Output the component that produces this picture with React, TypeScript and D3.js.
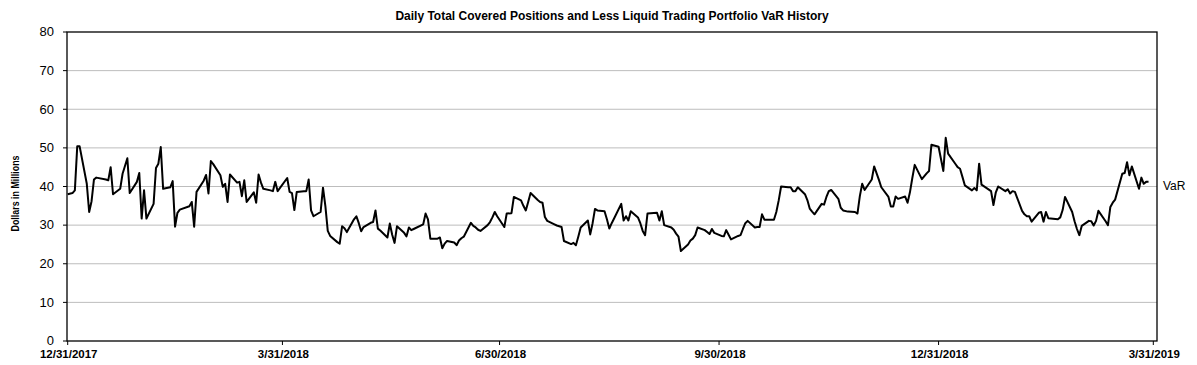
import React from 'react';
import * as d3 from 'd3';

// Daily VaR ($MM), one value per reporting day
const q1_2018 = [
  38.0,
  38.3, 39.0, 50.4, 50.4, 40.7, 33.4, 36.2, 41.8, 42.3, 41.8, 41.6, 45.0, 38.0, 39.4, 43.3, 45.3, 47.3, 38.3, 41.2, 43.5, 31.7,
  39.0, 31.7, 35.5, 44.8, 45.9, 50.2, 39.4, 39.8, 41.4, 29.6, 33.2, 34.0, 34.9, 36.0, 29.6, 38.6, 41.5, 43.0, 38.2,
  46.6, 45.8, 42.9, 39.9, 40.7, 36.0, 43.1, 41.0, 41.2, 37.5, 41.6, 36.0, 38.5, 35.8, 43.1, 41.0, 39.4, 39.0, 38.8, 41.2, 38.8,
];
const q2_2018 = [
  42.2, 38.6, 38.3, 33.9, 38.6, 38.8, 38.8, 41.8, 33.8, 32.3, 33.4, 39.7, 34.9, 28.5, 27.2, 25.6, 25.2, 29.7, 29.2, 28.2, 31.5,
  32.3, 30.5, 28.4, 29.5, 30.6, 30.8, 33.8, 29.1, 28.6, 26.8, 30.4, 27.5, 25.4, 29.7, 28.0, 27.1, 29.4, 28.7, 29.0, 30.2, 33.0, 31.5,
  26.5, 26.5, 26.8, 24.0, 25.2, 25.9, 25.5, 24.8, 26.0, 26.6, 27.0, 30.6, 29.8, 29.4, 28.8, 28.5, 30.0, 30.8, 32.0, 33.4, 32.3,
];
const q3_2018 = [
  29.5, 33.0, 33.1, 37.3, 36.4, 35.0, 33.8, 36.0, 38.3, 36.5, 36.0, 35.8, 32.1, 31.1, 30.2, 29.9, 29.7, 29.5, 25.9, 25.1, 25.4,
  24.8, 27.0, 29.4, 31.2, 27.6, 30.5, 34.2, 33.8, 33.6, 31.5, 29.1, 30.5, 31.7, 35.5, 31.2, 32.3, 31.2, 33.6, 32.0, 30.5, 28.5, 27.4, 33.0,
  33.2, 31.2, 33.6, 30.0, 29.4, 28.8, 27.8, 27.0, 23.3, 25.0, 26.0, 26.5, 27.4, 29.4, 28.7, 28.2, 27.7, 29.0, 28.0,
];
const q4_2018 = [
  27.2, 27.1, 28.7, 27.5, 26.3, 27.2, 27.4, 29.0, 30.5, 31.1, 29.4, 29.5, 29.5, 32.8, 31.4, 31.4, 31.4, 33.4, 36.4, 40.0, 39.8, 39.8, 38.8,
  38.8, 39.8, 38.0, 36.5, 34.3, 33.5, 32.8, 35.5, 35.3, 37.3, 38.8, 39.1, 36.8, 34.5, 33.8, 33.5, 33.4, 33.0, 37.5, 40.7, 39.1,
  41.8, 45.2, 41.7, 39.8, 37.3, 34.8, 34.8, 37.4, 36.8, 37.4, 35.8, 38.5, 42.2, 45.6, 41.9, 43.4, 44.0, 50.8, 50.3,
];
const q1_2019 = [
  44.0, 52.6, 48.5, 45.9, 45.0, 44.6, 42.5, 40.3, 39.0, 39.6, 39.0, 45.9, 40.5, 38.8, 35.2, 38.5, 40.0, 38.8, 39.3, 38.2, 38.8,
  38.6, 33.7, 32.8, 32.3, 32.3, 30.9, 33.2, 33.4, 30.9, 33.4, 31.8, 31.5, 32.0, 33.9, 37.3, 33.4, 31.0, 29.0, 27.4,
  29.8, 31.1, 31.0, 29.9, 31.1, 33.7, 31.0, 30.0, 34.7, 35.8, 36.6, 43.3, 43.5, 46.3, 42.9, 45.2, 39.4, 42.3, 40.7, 41.2, 41.2,
];

const holidays = [
  '2018-01-15', '2018-02-19', '2018-03-30', '2018-05-28', '2018-07-04', '2018-09-03',
  '2018-11-22', '2018-12-05', '2018-12-25', '2019-01-01', '2019-01-21', '2019-02-18',
];
const yTicks = [0, 10, 20, 30, 40, 50, 60, 70, 80];
const xTicks = ['2017-12-31', '2018-03-31', '2018-06-30', '2018-09-30', '2018-12-31', '2019-03-31'];

const title = 'Daily Total Covered Positions and Less Liquid Trading Portfolio VaR History';

const parse = d3.utcParse('%Y-%m-%d');
const fmt = d3.utcFormat('%-m/%-d/%Y');
const iso = d3.utcFormat('%Y-%m-%d');

// reporting days: quarter-end date, then business days
const tradingDays = d3.utcDay
  .range(parse('2018-01-02')!, parse('2019-03-30')!)
  .filter(d => d.getUTCDay() !== 0 && d.getUTCDay() !== 6 && !holidays.includes(iso(d)));
const dates = [parse('2017-12-31')!, ...tradingDays];
const values = [...q1_2018, ...q2_2018, ...q3_2018, ...q4_2018, ...q1_2019];
const series = dates.map((d, i) => ({ date: d, value: values[i] })).filter(p => p.value != null);

const W = 1197;
const H = 365;
const m = { left: 67, right: 1157, top: 32, bottom: 341 };

const App: React.FC = () => {
  const x = d3.scaleUtc()
    .domain([parse(xTicks[0])!, parse(xTicks[xTicks.length - 1])!])
    .range([m.left + 0.7, m.right - 3.7]);
  const y = d3.scaleLinear().domain([0, 80]).range([m.bottom, m.top]);

  const line = d3.line<{ date: Date; value: number }>()
    .x(d => x(d.date))
    .y(d => y(d.value));

  const sans = "'Liberation Sans', Arial, sans-serif";

  return (
    <svg width={W} height={H} style={{ position: 'absolute', left: 0, top: 0, background: '#fff' }}>
      <text x={612} y={20} textAnchor="middle" fontFamily={sans} fontWeight="bold" fontSize={12} fill="#000">
        {title}
      </text>

      {/* gridlines */}
      {yTicks.filter(t => t > 0 && t < 80).map(t => (
        <line key={t} x1={m.left} x2={m.right} y1={y(t)} y2={y(t)} stroke="#bdbdbd" strokeWidth={1} />
      ))}

      {/* y ticks + labels */}
      {yTicks.map(t => (
        <g key={'y' + t}>
          <line x1={m.left - 4} x2={m.left} y1={y(t)} y2={y(t)} stroke="#000" strokeWidth={1} />
          <text x={54} y={y(t) + 4.3} textAnchor="end" fontFamily={sans} fontSize={13} fill="#000">{t}</text>
        </g>
      ))}

      {/* x ticks + labels */}
      {xTicks.map(s => {
        const d = parse(s)!;
        return (
          <g key={s}>
            <line x1={x(d)} x2={x(d)} y1={m.bottom} y2={m.bottom + 4} stroke="#000" strokeWidth={1} />
            <text x={x(d) + 1} y={358} textAnchor="middle" fontFamily={sans} fontWeight="bold" fontSize={11.5} fill="#000">
              {fmt(d)}
            </text>
          </g>
        );
      })}

      <rect x={m.left} y={m.top} width={m.right - m.left} height={m.bottom - m.top} fill="none" stroke="#000" strokeWidth={1.3} />

      <path d={line(series) ?? ''} fill="none" stroke="#000" strokeWidth={2} strokeLinejoin="round" />

      <text x={1163} y={190} fontFamily={sans} fontSize={12} fill="#000">VaR</text>

      <text
        transform={`translate(19,${(m.top + m.bottom) / 2 + 7}) rotate(-90)`}
        textAnchor="middle"
        fontFamily={sans}
        fontWeight="bold"
        fontSize={11}
        textLength={76}
        lengthAdjust="spacingAndGlyphs"
        fill="#000"
      >
        Dollars in Millions
      </text>
    </svg>
  );
};

export default App;
